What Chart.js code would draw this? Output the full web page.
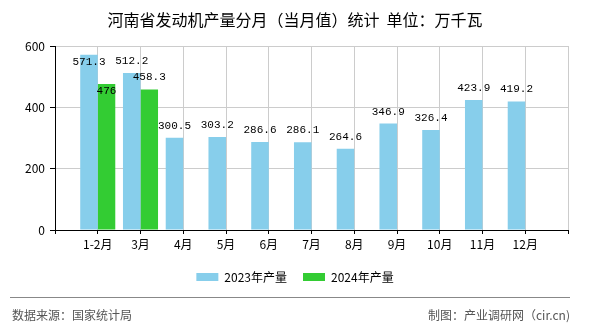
<!DOCTYPE html>
<html>
<head>
<meta charset="utf-8">
<title>河南省发动机产量分月（当月值）统计</title>
<script src="https://cdn.jsdelivr.net/npm/chart.js@4.4.1/dist/chart.umd.min.js"></script>
<style>
	body { margin: 0; background: #fff; }
	#wrap { position: relative; width: 590px; height: 330px; font-family: "Noto Sans CJK SC", sans-serif; }
	#chart { position: absolute; left: 0; top: 0; }
	.foot-line { position: absolute; left: 10px; top: 297px; width: 560px; border-top: 1px solid #888; }
	.foot-text { position: absolute; top: 306px; font-size: 12px; line-height: 18px; color: #555; white-space: nowrap; }
	.foot-left { left: 12px; }
	.foot-right { right: 20px; }
</style>
</head>
<body>
<div id="wrap">
	<canvas id="chart" width="590" height="330"></canvas>
	<div class="foot-line"></div>
	<div class="foot-text foot-left">数据来源：国家统计局</div>
	<div class="foot-text foot-right">制图：产业调研网（cir.cn)</div>
</div>
<script>
const categories = ["1-2月", "3月", "4月", "5月", "6月", "7月", "8月", "9月", "10月", "11月", "12月"];
const output2023 = [571.3, 512.2, 300.5, 303.2, 286.6, 286.1, 264.6, 346.9, 326.4, 423.9, 419.2];
const output2024 = [476, 458.3];
const yTicks = [0, 200, 400, 600];

// one empty slot on each side so the groups sit on the grid lines
const axisLabels = [""].concat(categories, [""]);

function padSeries(values) {
	const out = [null];
	categories.forEach(function (name, i) {
		out.push(i < values.length ? values[i] : null);
	});
	out.push(null);
	return out;
}

const barValueLabels = {
	id: "barValueLabels",
	afterDatasetsDraw: function (chart) {
		const ctx = chart.ctx;
		const area = chart.chartArea;
		const placed = [];

		function overlaps(a, b) {
			return a.l < b.r && b.l < a.r && a.t < b.b && b.t < a.b;
		}

		function boxAt(x, base, w) {
			return { l: x - w / 2, r: x + w / 2, t: base - 11, b: base + 2 };
		}

		ctx.save();
		ctx.font = "11px 'Liberation Mono', monospace";
		ctx.fillStyle = "#000";
		ctx.textAlign = "center";
		ctx.textBaseline = "alphabetic";

		chart.data.datasets.forEach(function (dataset, di) {
			const meta = chart.getDatasetMeta(di);
			meta.data.forEach(function (bar, i) {
				const value = dataset.data[i];
				if (value === null || value === undefined) {
					return;
				}
				const text = String(value);
				const m = ctx.measureText(text);
				const h = m.actualBoundingBoxAscent;
				const w = m.width;

				// above the bar, unless that leaves the plot or hits another label
				let base = bar.y - 9;
				let box = boxAt(bar.x, base, w);
				const blocked = base - h < area.top || placed.some(function (p) {
					return overlaps(box, p);
				});
				if (blocked) {
					base = bar.y + 3 + h;
					box = boxAt(bar.x, base, w);
				}
				placed.push(box);
				ctx.fillText(text, bar.x, base);
			});
		});
		ctx.restore();
	}
};

Chart.defaults.font.family = "'Noto Sans CJK SC', sans-serif";
Chart.defaults.color = "#000";

new Chart(document.getElementById("chart"), {
	type: "bar",
	data: {
		labels: axisLabels,
		datasets: [
			{
				label: "2023年产量",
				data: padSeries(output2023),
				backgroundColor: "#87CEEB"
			},
			{
				label: "2024年产量",
				data: padSeries(output2024),
				backgroundColor: "#33CC33"
			}
		]
	},
	options: {
		responsive: false,
		animation: false,
		devicePixelRatio: 1,
		barPercentage: 1,
		categoryPercentage: 0.82,
		layout: {
			padding: { top: 0, left: 22, right: 22, bottom: 37 }
		},
		plugins: {
			title: {
				display: true,
				text: "河南省发动机产量分月（当月值）统计  单位：万千瓦",
				color: "#000",
				font: { size: 16, weight: "normal" },
				padding: { top: 10, bottom: 16.8 }
			},
			legend: {
				position: "bottom",
				labels: {
					boxWidth: 22,
					boxHeight: 8,
					padding: 16,
					color: "#000",
					font: { size: 12 }
				}
			},
			tooltip: { enabled: false }
		},
		scales: {
			x: {
				offset: false,
				grid: {
					offset: false,
					color: "#ccc",
					tickColor: "#000",
					tickLength: 4
				},
				border: { color: "#000" },
				ticks: {
					autoSkip: false,
					maxRotation: 0,
					padding: 3,
					color: "#000",
					font: { size: 12 }
				},
				afterFit: function (scale) {
					scale.height = 25;
				}
			},
			y: {
				min: 0,
				max: 600,
				grid: {
					color: "#ccc",
					tickColor: "#000",
					tickLength: 5
				},
				border: { color: "#000" },
				ticks: {
					padding: 5,
					color: "#000",
					font: { size: 12 }
				},
				afterBuildTicks: function (scale) {
					scale.ticks = yTicks.map(function (v) {
						return { value: v };
					});
				},
				afterFit: function (scale) {
					scale.width = 33;
				}
			}
		}
	},
	plugins: [barValueLabels]
});
</script>
</body>
</html>
